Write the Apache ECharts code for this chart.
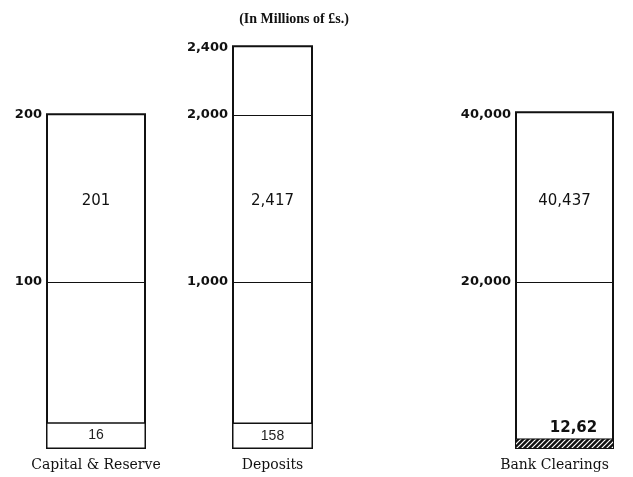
<!DOCTYPE html>
<html><head><meta charset="utf-8">
<script src="https://cdn.jsdelivr.net/npm/echarts@6/dist/echarts.min.js"></script>
<style>html,body{margin:0;padding:0;background:#fff}#c{width:633px;height:477px}</style>
</head><body><div id="c"></div><script>
const categories = ['Capital & Reserve', 'Deposits', 'Bank Clearings'];
const totals = [201, 2417, 40437];
const totalLabels = ['201', '2,417', '40,437'];
const parts = [16, 158, 1262];
const partLabels = ['16', '158', '12,62'];
const axisMax = [200, 2400, 40000];
const axisInterval = [100, 1000, 20000];

// layout (styles only)
const grids = [
  {left: 46, width: 100, top: 115, height: 334},
  {left: 232, width: 81, top: 48, height: 401},
  {left: 515, width: 99, top: 115, height: 334}
];
const totalOffsets = [[0, -80], [0, -46], [0, -79]];
const catPadding = [[0, 0, 0, 0], [0, 0, 0, 0], [0, 20, 0, 0]];

// hatch pattern
const pc = document.createElement('canvas');
pc.width = 5; pc.height = 5;
const ctx = pc.getContext('2d');
ctx.fillStyle = '#111'; ctx.fillRect(0, 0, 5, 5);
ctx.strokeStyle = '#fff'; ctx.lineWidth = 1.2;
ctx.beginPath(); ctx.moveTo(0, 5); ctx.lineTo(5, 0); ctx.stroke();
ctx.beginPath(); ctx.moveTo(-1, 1); ctx.lineTo(1, -1); ctx.stroke();
ctx.beginPath(); ctx.moveTo(4, 6); ctx.lineTo(6, 4); ctx.stroke();

const fmt = v => v === 0 ? '' : v.toLocaleString('en-US');
const option = {
  animation: false,
  backgroundColor: '#fff',
  title: {
    text: '(In Millions of £s.)', left: 289, top: 7, textAlign: 'center',
    textStyle: {fontFamily: 'Liberation Serif', fontWeight: 'bold', fontSize: 14, color: '#111'}
  },
  grid: grids.map(g => Object.assign({containLabel: false}, g)),
  xAxis: categories.map((c, i) => ({
    type: 'category', gridIndex: i, data: [c],
    axisLine: {show: false}, axisTick: {show: false},
    axisLabel: {margin: 9, padding: catPadding[i], fontFamily: 'DejaVu Serif', fontSize: 14, color: '#111'}
  })),
  yAxis: axisMax.map((m, i) => ({
    type: 'value', gridIndex: i, min: 0, max: m, interval: axisInterval[i],
    axisLine: {show: false}, axisTick: {show: false},
    axisLabel: {formatter: fmt, margin: 4, fontFamily: 'DejaVu Sans', fontWeight: 'bold', fontSize: 13, color: '#111'},
    splitLine: {show: true, showMinLine: false, showMaxLine: false, lineStyle: {color: '#111', width: 1.2}}
  })),
  series: []
};
categories.forEach((c, i) => {
  option.series.push({
    type: 'bar', xAxisIndex: i, yAxisIndex: i, data: [totals[i]],
    barWidth: '100%', barGap: '-100%', clip: false, z: 3,
    itemStyle: {color: 'rgba(0,0,0,0)', borderColor: '#111', borderWidth: 2},
    label: {show: true, position: 'inside', offset: totalOffsets[i], formatter: () => totalLabels[i],
      fontFamily: 'DejaVu Sans', fontSize: 15, color: '#111'}
  });
  const hatched = i === 2;
  option.series.push({
    type: 'bar', xAxisIndex: i, yAxisIndex: i, data: [parts[i]],
    barWidth: '100%', barGap: '-100%', clip: false, z: 4,
    itemStyle: hatched ? {color: {image: pc, repeat: 'repeat'}, borderColor: '#111', borderWidth: 1}
                       : {color: '#fff', borderColor: '#111', borderWidth: 1.5},
    label: hatched ? {show: true, position: 'top', distance: 3, offset: [9, 0], formatter: () => partLabels[i],
                      fontFamily: 'DejaVu Sans', fontWeight: 'bold', fontSize: 15, color: '#111'}
                   : {show: true, position: 'inside', formatter: () => partLabels[i],
                      fontFamily: 'Liberation Sans', fontSize: 14, color: '#222'}
  });
});
const chart = echarts.init(document.getElementById('c'), null, {renderer: 'canvas'});
chart.setOption(option);
</script></body></html>
